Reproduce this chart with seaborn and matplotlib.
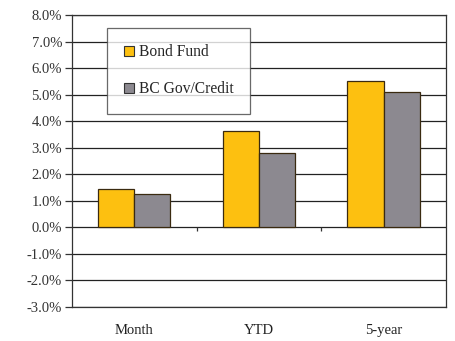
import matplotlib
matplotlib.use("Agg")
import matplotlib.pyplot as plt
import seaborn as sns
import pandas as pd
import matplotlib.ticker as mticker

categories = ["Month", "YTD", "5-year"]
series = ["Bond Fund", "BC Gov/Credit"]
bond_fund = [1.43, 3.62, 5.50]
bc_gov_credit = [1.25, 2.79, 5.10]
colors = ["#FDC010", "#8C8990"]

df = pd.DataFrame({
    "cat": categories * 2,
    "series": [series[0]] * 3 + [series[1]] * 3,
    "val": bond_fund + bc_gov_credit,
})

sns.set_style("white")
plt.rcParams["font.family"] = ["Liberation Serif", "DejaVu Serif"]

fig = plt.figure(figsize=(4.55, 3.41), dpi=100)
ax = fig.add_axes([0.158, 0.0997, 0.822, 0.8563])

sns.barplot(data=df, x="cat", y="val", hue="series", palette=colors,
            saturation=1, width=0.58, edgecolor="#3a2a10", linewidth=0.9,
            ax=ax, zorder=3, legend=True)

ax.set_ylim(-3, 8)
ax.set_xlim(-0.5, 2.5)
ax.yaxis.set_major_locator(mticker.MultipleLocator(1))
ax.yaxis.set_major_formatter(mticker.FuncFormatter(lambda v, p: f"{v:.1f}%"))
ax.grid(axis="y", color="#222222", linewidth=0.9, zorder=0)
ax.set_axisbelow(True)
for s in ax.spines.values():
    s.set_color("#333333")
    s.set_linewidth(0.9)
ax.set_xlabel("")
ax.set_ylabel("")
ax.tick_params(axis="y", left=True, length=5, width=0.9, color="#333333",
               labelsize=10.5, labelcolor="#333333", pad=2)
ax.tick_params(axis="x", bottom=False, labelsize=10.5, labelcolor="#222222", pad=9)

# small separator ticks on the zero line
ax.vlines([0.5, 1.5], -0.12, 0, color="#333333", linewidth=0.9, zorder=2)

leg = ax.legend(loc="upper left", bbox_to_anchor=(0.095, 0.955), frameon=True,
                fancybox=False, edgecolor="#444444", fontsize=11.2,
                handlelength=0.65, handleheight=0.65, handletextpad=0.3,
                labelspacing=1.35, borderpad=1.05, borderaxespad=0)
leg.get_frame().set_linewidth(0.9)
for h in leg.legend_handles:
    h.set_edgecolor("#333333")
    h.set_linewidth(0.8)

fig.savefig("out.png", dpi=100)
